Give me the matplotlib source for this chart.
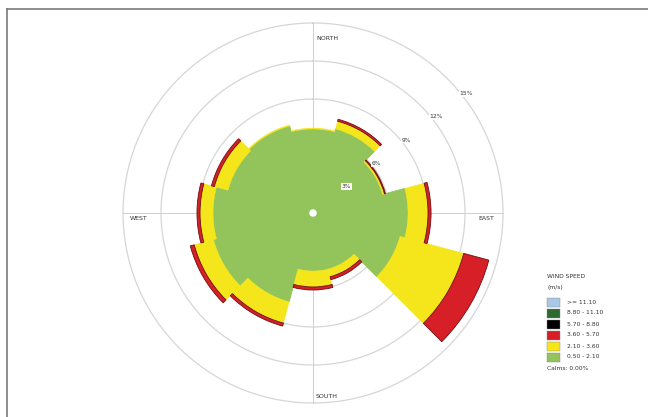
import numpy as np
import matplotlib
matplotlib.use("Agg")
import matplotlib.pyplot as plt
from matplotlib.patches import Rectangle, Circle
from matplotlib.lines import Line2D

# wind rose data, percent of time per direction and speed class
directions = [0, 30, 60, 90, 120, 150, 180, 210, 240, 270, 300, 330]
spd_050_210 = [6.63, 6.87, 5.68, 7.50, 7.11, 4.58, 4.58, 7.26, 8.13, 7.89, 6.95, 7.11]
spd_210_360 = [0.08, 0.63, 0.16, 1.58, 5.21, 0.63, 1.26, 1.74, 1.58, 1.03, 1.11, 0.08]
spd_360_570 = [0.00, 0.16, 0.08, 0.24, 2.05, 0.24, 0.24, 0.24, 0.32, 0.24, 0.24, 0.00]

ring_values = [3, 6, 9, 12, 15]
ring_labels = ["3%", "6%", "9%", "12%", "15%"]
compass = ["NORTH", "EAST", "SOUTH", "WEST"]

legend_labels = [">= 11.10", "8.80 - 11.10", "5.70 - 8.80", "3.60 - 5.70", "2.10 - 3.60", "0.50 - 2.10"]
legend_colors = ["#a9c7e6", "#2f6b2f", "#000000", "#d71f27", "#f5e51b", "#93c35b"]
calms = "Calms: 0.00%"

W, H = 648, 417
def px(x, y):
    return x / W, 1 - y / H

fig = plt.figure(figsize=(6.48, 4.17), dpi=100)
fig.patch.set_facecolor("white")

# frame (only top and left edges fall inside the picture)
fig.add_artist(Line2D([7/W, 1], [1-9/H, 1-9/H], transform=fig.transFigure, color="#7a7a7a", lw=1.2))
fig.add_artist(Line2D([7/W, 7/W], [0, 1-9/H], transform=fig.transFigure, color="#7a7a7a", lw=1.2))

cx, cy, R = 313, 213, 190
ax = fig.add_axes([(cx-R)/W, (H-cy-R)/H, 2*R/W, 2*R/H], projection="polar")
ax.set_theta_zero_location("N")
ax.set_theta_direction(-1)
ax.set_ylim(0, 15)
ax.set_facecolor("none")
ax.spines["polar"].set_visible(False)
ax.set_xticks([])
ax.set_yticks([])
ax.grid(False)

# rings and cross
t = np.linspace(0, 2*np.pi, 361)
for rv in ring_values:
    ax.plot(t, np.full_like(t, rv), color="#d6d6d6", lw=0.9, zorder=1, clip_on=False)
for a in [0, np.pi/2, np.pi, 3*np.pi/2]:
    ax.plot([a, a], [0, 15], color="#d0d0d0", lw=0.7, zorder=1, clip_on=False)

theta = np.deg2rad(directions)
width = np.deg2rad(30)
g = np.array(spd_050_210)
y = np.array(spd_210_360)
r = np.array(spd_360_570)
ax.bar(theta, g, width=width, bottom=0, color=legend_colors[5],
       edgecolor=legend_colors[5], lw=0.6, zorder=2)
ax.bar(theta, y, width=width, bottom=g, color=legend_colors[4],
       edgecolor=legend_colors[4], lw=0.3, zorder=2)
ax.bar(theta[r > 0], r[r > 0], width=width, bottom=(g+y)[r > 0], color=legend_colors[3],
       edgecolor="#6b1010", lw=0.6, zorder=3)

# calm circle in the middle
ax.add_artist(Circle((0.5, 0.5), 0.008, transform=ax.transAxes, color="white", zorder=5))

# ring labels along the NE diagonal
lab_ang = np.deg2rad(52)
for rv, lab in zip(ring_values, ring_labels):
    ax.text(lab_ang, rv + 0.35, lab, fontsize=4.3, color="#333333", ha="center", va="center",
            zorder=6, bbox=dict(boxstyle="square,pad=0.15", fc="white", ec="none"))

# compass labels
fig.text(*px(316, 38), compass[0], fontsize=4.5, color="#333333", ha="left", va="center")
fig.text(*px(478, 218), compass[1], fontsize=4.5, color="#333333", ha="left", va="center")
fig.text(*px(316, 397), compass[2], fontsize=4.5, color="#333333", ha="left", va="center")
fig.text(*px(130, 218), compass[3], fontsize=4.5, color="#333333", ha="left", va="center")

# legend
fig.text(*px(547, 276), "WIND SPEED", fontsize=4.3, color="#333333", ha="left", va="center")
fig.text(*px(547, 287), "(m/s)", fontsize=4.3, color="#333333", ha="left", va="center")
for i, (lab, col) in enumerate(zip(legend_labels, legend_colors)):
    yy = 302 + i * 11
    x0, y0 = px(547, yy + 4.5)
    fig.add_artist(Rectangle((x0, y0), 13/W, 9/H, transform=fig.transFigure,
                             facecolor=col, edgecolor="#888888", lw=0.3))
    fig.text(*px(567, yy), lab, fontsize=4.3, color="#333333", ha="left", va="center")
fig.text(*px(547, 369), calms, fontsize=4.3, color="#333333", ha="left", va="center")

fig.savefig("out.png", dpi=100, facecolor="white")
